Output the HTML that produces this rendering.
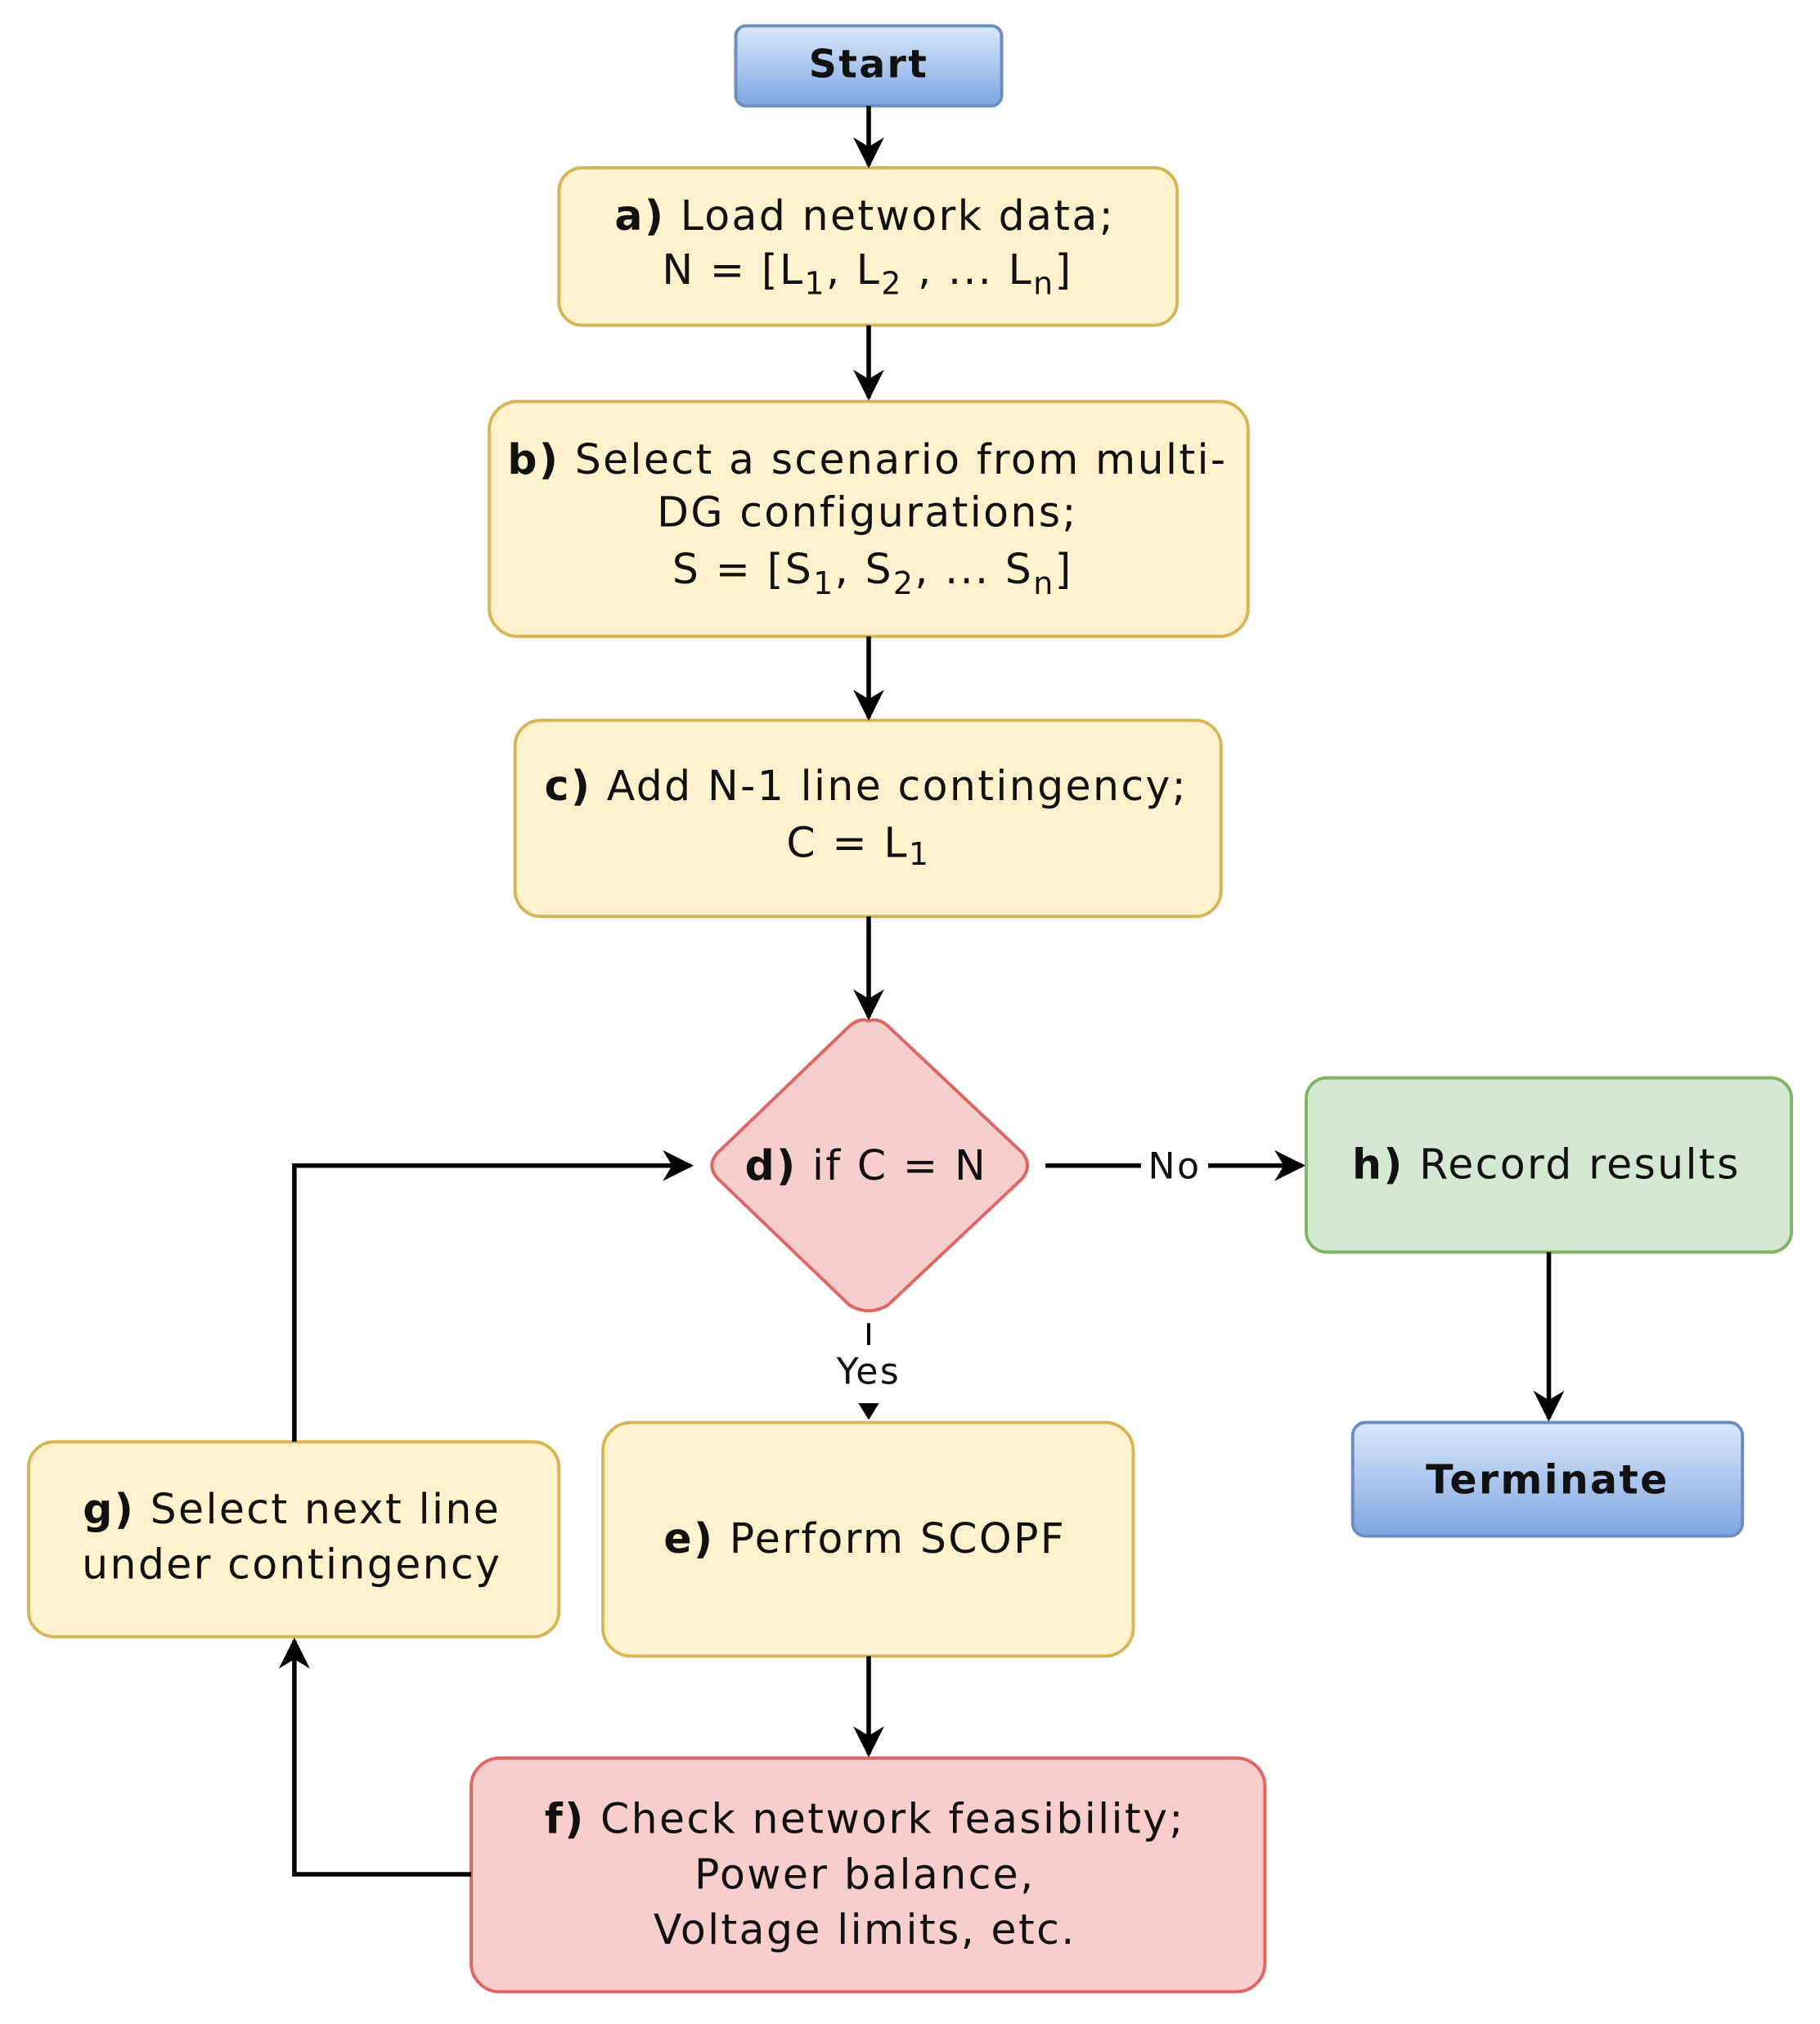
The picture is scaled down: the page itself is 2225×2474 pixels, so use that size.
<!DOCTYPE html>
<html><head><meta charset="utf-8"><style>
html,body{margin:0;padding:0;background:#fff}
svg{display:block}
text{font-family:"DejaVu Sans","Liberation Sans",sans-serif;fill:#111;letter-spacing:1.5px}
</style></head><body>
<svg width="2225" height="2474" viewBox="0 0 1410 1568" xmlns="http://www.w3.org/2000/svg">
<defs>
<linearGradient id="bl" x1="0" y1="0" x2="0" y2="1"><stop offset="0" stop-color="#dae8fc"/><stop offset="1" stop-color="#7ea6e0"/></linearGradient>
<marker id="ar" viewBox="0 0 10 10" refX="9" refY="5" markerWidth="26" markerHeight="24" markerUnits="userSpaceOnUse" orient="auto"><path d="M0,0 L10,5 L0,10 L3,5 z" fill="#000"/></marker>
</defs>
<g stroke-width="2.5">
<rect x="570" y="20" width="206" height="62" rx="8" fill="url(#bl)" stroke="#6c8ebf"/>
<rect x="433" y="130" width="479" height="122" rx="18" fill="#fff2cc" stroke="#d6b656"/>
<rect x="379" y="311" width="588" height="182" rx="22" fill="#fff2cc" stroke="#d6b656"/>
<rect x="399" y="558" width="547" height="152" rx="20" fill="#fff2cc" stroke="#d6b656"/>
<path d="M673,791 Q680,788 688,795 L792,893 Q800,903 792,913 L688,1011 Q673,1020 658,1011 L556,913 Q547,903 556,893 L658,795 Q666,788 673,791 Z" fill="#f8cecc" stroke="#e06666"/>
<rect x="1012" y="835" width="376" height="135" rx="16" fill="#d5e8d4" stroke="#82b366"/>
<rect x="1048" y="1102" width="302" height="88" rx="10" fill="url(#bl)" stroke="#6c8ebf"/>
<rect x="467" y="1102" width="411" height="181" rx="22" fill="#fff2cc" stroke="#d6b656"/>
<rect x="22" y="1117" width="411" height="151" rx="20" fill="#fff2cc" stroke="#d6b656"/>
<rect x="365" y="1362" width="615" height="181" rx="22" fill="#f8cecc" stroke="#e06666"/>
</g>
<g stroke="#000" stroke-width="3.5" fill="none" marker-end="url(#ar)">
<line x1="673" y1="82" x2="673" y2="128"/>
<line x1="673" y1="252" x2="673" y2="308"/>
<line x1="673" y1="493" x2="673" y2="556"/>
<line x1="673" y1="710" x2="673" y2="788"/>
<line x1="810" y1="903" x2="1009" y2="903"/>
<line x1="1200" y1="970" x2="1200" y2="1099"/>
<line x1="673" y1="1283" x2="673" y2="1359"/>
<polyline points="365,1452 228,1452 228,1271"/>
<polyline points="228,1117 228,903 535,903"/>
</g>
<line x1="673" y1="1025" x2="673" y2="1042" stroke="#000" stroke-width="2.5"/>
<path d="M665,1087 L681,1087 L673,1100 Z" fill="#000"/>
<rect x="884" y="890" width="52" height="26" fill="#fff"/>
<g font-size="32" text-anchor="middle">
<text x="673" y="60" font-weight="bold" font-size="30">Start</text>
<text x="670" y="178"><tspan font-weight="bold">a)</tspan> Load network data;</text>
<text x="672" y="220">N = [L<tspan font-size="24" dy="8">1</tspan><tspan dy="-8">, L</tspan><tspan font-size="24" dy="8">2</tspan><tspan dy="-8"> , ... L</tspan><tspan font-size="24" dy="8">n</tspan><tspan dy="-8">]</tspan></text>
<text x="672" y="367"><tspan font-weight="bold">b)</tspan> Select a scenario from multi-</text>
<text x="672" y="408">DG configurations;</text>
<text x="676" y="452">S = [S<tspan font-size="24" dy="8">1</tspan><tspan dy="-8">, S</tspan><tspan font-size="24" dy="8">2</tspan><tspan dy="-8">, ... S</tspan><tspan font-size="24" dy="8">n</tspan><tspan dy="-8">]</tspan></text>
<text x="671" y="620"><tspan font-weight="bold">c)</tspan> Add N-1 line contingency;</text>
<text x="665" y="664">C = L<tspan font-size="24" dy="6">1</tspan></text>
<text x="671" y="914"><tspan font-weight="bold">d)</tspan> if C = N</text>
<text x="910" y="913" font-size="28" letter-spacing="0">No</text>
<text x="1198" y="913"><tspan font-weight="bold">h)</tspan> Record results</text>
<text x="1199" y="1157" font-weight="bold" font-size="31">Terminate</text>
<text x="673" y="1072" font-size="28" letter-spacing="0">Yes</text>
<text x="670" y="1203"><tspan font-weight="bold">e)</tspan> Perform SCOPF</text>
<text x="226" y="1180"><tspan font-weight="bold">g)</tspan> Select next line</text>
<text x="226" y="1223">under contingency</text>
<text x="670" y="1420"><tspan font-weight="bold">f)</tspan> Check network feasibility;</text>
<text x="670" y="1463">Power balance,</text>
<text x="670" y="1506">Voltage limits, etc.</text>
</g>
</svg>
</body></html>
